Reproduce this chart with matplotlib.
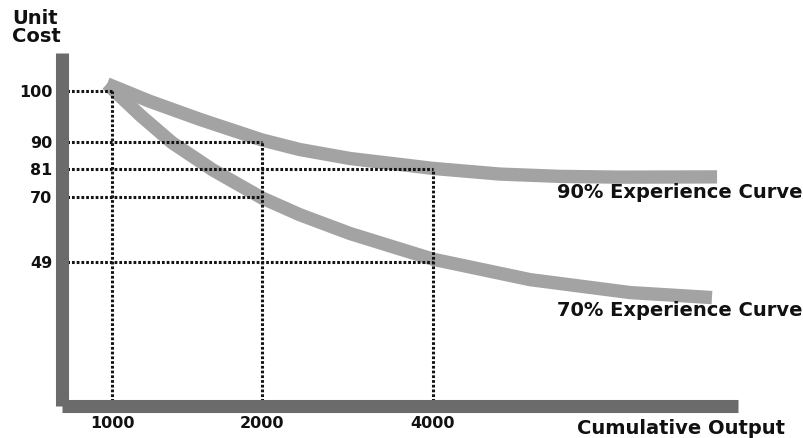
import numpy as np
import matplotlib
matplotlib.use('agg')
import matplotlib.pyplot as plt

matplotlib.rc('font', family='DejaVu Sans', weight='bold')

# Guide levels on the cost axis and how far each dotted guide runs to the right
cost_ticks = [100, 90, 81, 70, 49]
cost_guide_end = [1000, 2000, 4000, 2000, 4000]
output_ticks = [1000, 2000, 4000]
output_guide_top = [100, 90, 81]

# Curves (cumulative output, unit cost)
out_90 = [900, 1250, 1590, 2000, 2440, 3030, 4000, 5570, 6970, 8750, 13290]
cost_90 = [101.4, 98.0, 94.4, 90.4, 87.5, 84.5, 81.2, 79.0, 78.1, 77.8, 77.9]
out_70 = [900, 1190, 1400, 1670, 2000, 2440, 3030, 4000, 6270, 9220, 13050]
cost_70 = [101.4, 95.2, 89.8, 80.7, 69.7, 64.3, 58.2, 49.9, 43.0, 38.6, 36.9]

# The sketch is not drawn to scale, so both axes use a piecewise warp
x_knots = [0, 1000, 2000, 4000, 8000, 16000]
x_pos = [62.5, 112, 262, 433, 604, 775]
y_knots = [0, 49, 70, 81, 90, 100, 120]
y_pos = [32, 176, 241, 269, 296, 347, 449]


def fwd_x(v):
    return np.interp(v, x_knots, x_pos)


def inv_x(p):
    return np.interp(p, x_pos, x_knots)


def fwd_y(v):
    return np.interp(v, y_knots, y_pos)


def inv_y(p):
    return np.interp(p, y_pos, y_knots)


W, H = 804, 438
fig = plt.figure(figsize=(W / 100, H / 100), dpi=100)
ax = fig.add_axes([62.5 / W, 1 - 406 / H, (738 - 62.5) / W, (406 - 53) / H])
ax.set_xscale('function', functions=(fwd_x, inv_x))
ax.set_yscale('function', functions=(fwd_y, inv_y))
ax.set_xlim(0, inv_x(738))
ax.set_ylim(0, inv_y(H - 53))

curve_col = '#a3a3a3'
ax.plot(out_90, cost_90, color=curve_col, lw=9.6, solid_capstyle='butt',
        solid_joinstyle='round', zorder=2)
ax.plot(out_70, cost_70, color=curve_col, lw=9.6, solid_capstyle='butt',
        solid_joinstyle='round', zorder=2)

dots = (0, (0.9, 0.65))
ax.hlines(cost_ticks, 0, cost_guide_end, colors='#141414', linestyles=[dots], lw=2.2, zorder=3)
ax.vlines(output_ticks, 0, output_guide_top, colors='#141414', linestyles=[dots], lw=2.2, zorder=3)

for side in ['top', 'right']:
    ax.spines[side].set_visible(False)
for side in ['left', 'bottom']:
    ax.spines[side].set_linewidth(9.4)
    ax.spines[side].set_color('#6b6b6b')
    ax.spines[side].set_capstyle('butt')
    ax.spines[side].set_zorder(4)

ax.set_xticks(output_ticks)
ax.set_xticklabels([str(v) for v in output_ticks])
ax.set_yticks(cost_ticks)
ax.set_yticklabels([str(v) for v in cost_ticks])
ax.minorticks_off()
ax.tick_params(axis='both', length=0, labelsize=11.5, colors='#111111')
ax.tick_params(axis='x', pad=7)
ax.tick_params(axis='y', pad=7.5)

txt = dict(fontsize=14, fontweight='bold', color='#111111')
fig.text(12 / W, 1 - 9 / H, 'Unit\nCost', ha='left', va='top', linespacing=0.95, **txt)
fig.text(557 / W, 1 - 192 / H, '90% Experience Curve', ha='left', va='center', **txt)
fig.text(557 / W, 1 - 311 / H, '70% Experience Curve', ha='left', va='center', **txt)
fig.text(577 / W, 1 - 428 / H, 'Cumulative Output', ha='left', va='center', **txt)

plt.savefig('out.png', dpi=100)
plt.close()
